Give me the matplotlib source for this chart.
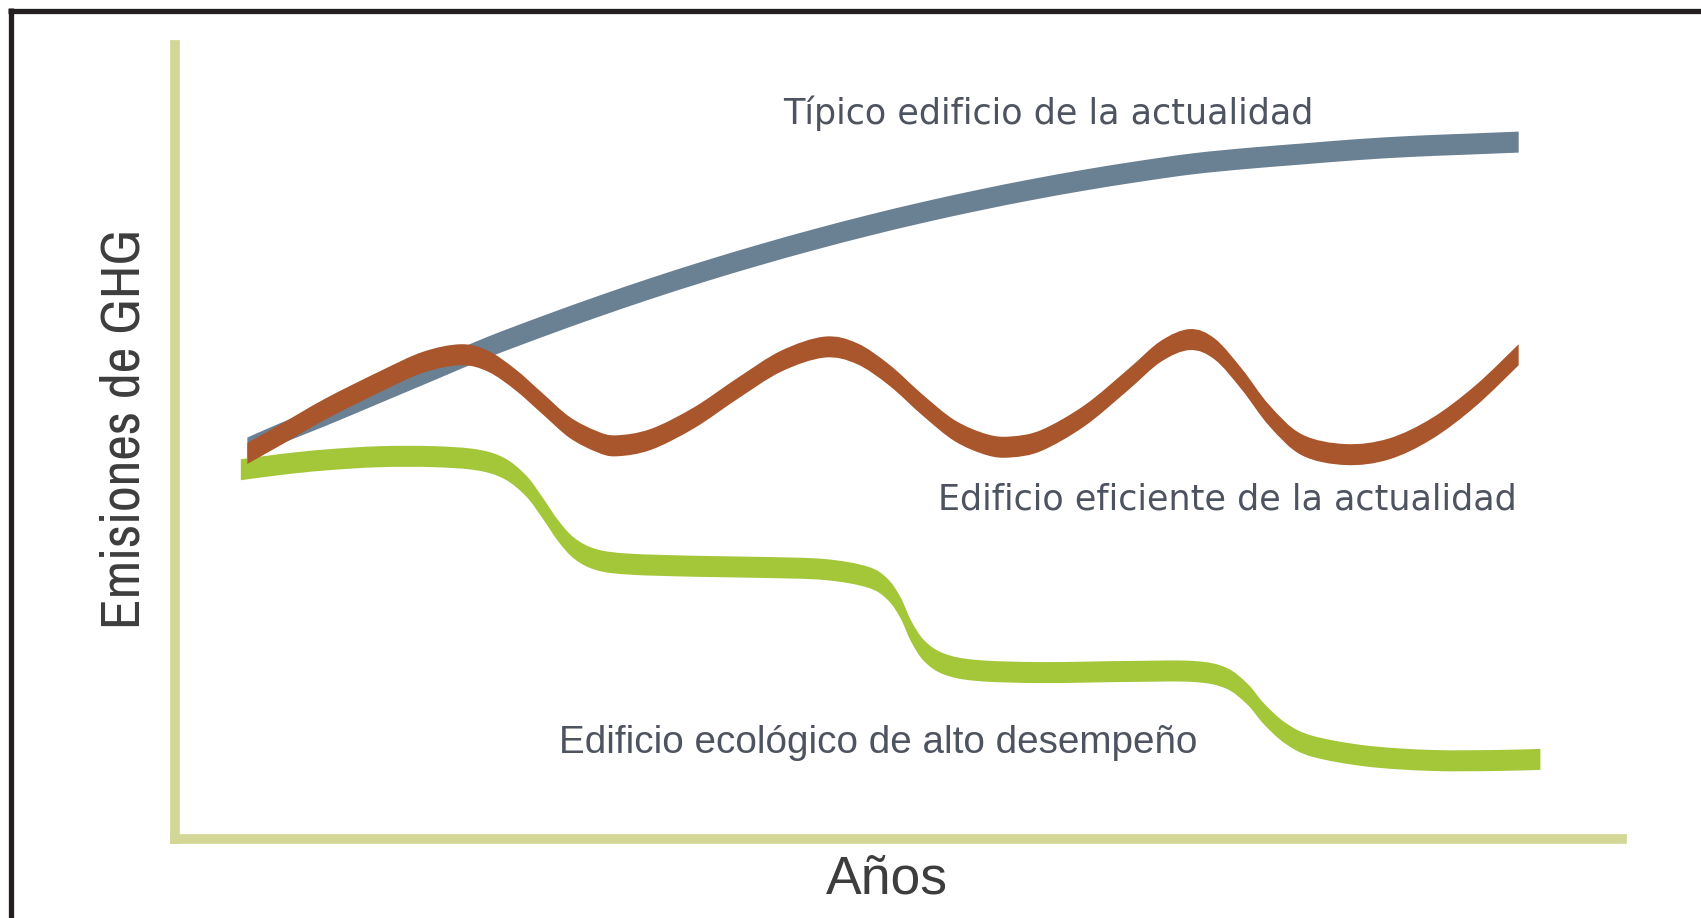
import matplotlib
matplotlib.use("Agg")
import matplotlib.pyplot as plt
from matplotlib.lines import Line2D
from matplotlib.path import Path
from matplotlib.patches import PathPatch
from matplotlib import font_manager
import numpy as np

# ---- data (arbitrary units: years 0-100, emissions 0-100) ----
typical_x = [5.00, 7.40, 10.40, 14.15, 17.89, 21.64, 25.39, 29.14, 32.89, 36.63, 40.39, 44.13,
             47.88, 51.63, 55.38, 59.13, 62.88, 66.62, 70.37, 74.12, 77.87, 81.62, 85.36, 89.12, 92.86]
typical_y = [49.24, 51.15, 53.34, 56.21, 59.08, 61.95, 64.54, 67.00, 69.33, 71.51, 73.56, 75.47,
             77.25, 78.89, 80.39, 81.76, 82.99, 84.08, 85.04, 85.72, 86.27, 86.81, 87.22, 87.50, 87.77]

efficient_x = [5.00, 7.40, 10.40, 14.15, 17.14, 19.77, 21.64, 23.52, 25.39, 27.27, 29.14, 30.49,
               32.89, 35.89, 38.89, 41.88, 44.88, 47.13, 49.38, 51.63, 53.88, 56.13, 57.78, 59.88,
               62.88, 65.87, 68.12, 70.15, 71.87, 73.75, 75.62, 77.87, 80.87, 83.87, 86.87, 89.87, 92.86]
efficient_y = [48.56, 51.02, 54.16, 57.58, 60.04, 60.99, 60.17, 57.85, 54.84, 51.84, 50.06, 49.52,
               50.33, 53.07, 56.76, 60.17, 61.95, 61.13, 58.40, 54.71, 51.43, 49.65, 49.38, 50.20,
               53.34, 57.85, 61.40, 62.90, 61.68, 57.85, 53.34, 49.65, 48.42, 49.11, 51.70, 55.80, 60.99]

green_x = [4.55, 7.40, 10.40, 14.15, 17.89, 20.89, 22.77, 24.27, 25.39, 26.52, 27.64, 29.14,
           31.39, 35.89, 40.39, 44.88, 47.88, 49.23, 50.13, 50.88, 51.78, 53.13, 55.38, 59.88,
           65.87, 70.37, 72.62, 74.12, 75.25, 76.75, 78.62, 82.37, 86.87, 91.37, 94.36]
green_y = [46.51, 47.19, 47.74, 48.15, 48.15, 47.74, 46.65, 44.46, 41.73, 38.72, 36.54, 35.17,
           34.62, 34.35, 34.21, 33.94, 32.98, 31.48, 29.16, 26.15, 23.69, 22.05, 21.23, 20.96,
           21.10, 21.10, 20.28, 18.23, 15.77, 13.31, 11.67, 10.44, 9.89, 9.89, 10.03]

labels = ["Típico edificio de la actualidad",
          "Edificio eficiente de la actualidad",
          "Edificio ecológico de alto desempeño"]
xlabel = "Años"
ylabel = "Emisiones de GHG"

# ---- figure ----
W, H, DPI = 1701, 918, 100
fig = plt.figure(figsize=(W / DPI, H / DPI), dpi=DPI)
fig.patch.set_facecolor("white")

ax_l, ax_r, ax_t, ax_b = 175, 1622, 45, 839
ax = fig.add_axes([ax_l / W, (H - ax_b) / H, (ax_r - ax_l) / W, (ax_b - ax_t) / H])
ax.set_xlim(0, 100)
ax.set_ylim(0, 100)
ax.set_xticks([])
ax.set_yticks([])
for s in ("top", "right"):
    ax.spines[s].set_visible(False)
spine_col = "#d3d796"
for s in ("left", "bottom"):
    ax.spines[s].set_color(spine_col)
    ax.spines[s].set_linewidth(7.0)
    ax.spines[s].set_capstyle("projecting")

# band thickness (vertical) in data units
thick_px = 21
h = thick_px * 100 / (ax_b - ax_t) / 2.0


def smooth_segments(x, y):
    """Catmull-Rom through the points, returned as cubic Bezier vertices."""
    P = np.column_stack([x, y]).astype(float)
    n = len(P)
    verts = [P[0]]
    for i in range(n - 1):
        p0 = P[i - 1] if i > 0 else P[i]
        p1 = P[i]
        p2 = P[i + 1]
        p3 = P[i + 2] if i + 2 < n else P[i + 1]
        c1 = p1 + (p2 - p0) / 6.0
        c2 = p2 - (p3 - p1) / 6.0
        verts += [c1, c2, p2]
    return np.array(verts)


def band(x, y, color, z):
    x = np.asarray(x, float)
    y = np.asarray(y, float)
    up = smooth_segments(x, y + h)
    lo = smooth_segments(x[::-1], (y - h)[::-1])
    verts = np.vstack([up, lo, up[:1]])
    codes = ([Path.MOVETO] + [Path.CURVE4] * (len(up) - 1) +
             [Path.LINETO] + [Path.CURVE4] * (len(lo) - 1) + [Path.CLOSEPOLY])
    ax.add_patch(PathPatch(Path(verts, codes), facecolor=color, edgecolor="none",
                           lw=0, zorder=z))


band(typical_x, typical_y, "#6a8093", 2)
band(green_x, green_y, "#a4c639", 3)
band(efficient_x, efficient_y, "#a9562c", 4)

names = {f.name for f in font_manager.fontManager.ttflist}
narrow = "Archivo Narrow" if "Archivo Narrow" in names else "Liberation Sans"

lab_col = "#4e5360"
ax.text(42.02, 90.09, labels[0], fontsize=25.2, color=lab_col, family="DejaVu Sans",
        ha="left", va="baseline")
ax.text(52.76, 41.45, labels[1], fontsize=25.2, color=lab_col, family="DejaVu Sans",
        ha="left", va="baseline")
ax.text(26.52, 10.84, labels[2], fontsize=27.8, color=lab_col, family="Liberation Sans",
        ha="left", va="baseline")

ax_col = "#3d3d3d"
fig.text(887 / W, 1 - 893 / H, xlabel, fontsize=38.5, color=ax_col, family="Liberation Sans",
         ha="center", va="baseline")
fig.text(124 / W, 1 - 429 / H, ylabel, fontsize=40.5, color=ax_col, family=narrow,
         rotation=90, ha="center", va="center")

# outer black frame (top and left edges)
fig.add_artist(Line2D([8 / W, 1.0], [1 - 10.5 / H, 1 - 10.5 / H], color="#231f20", lw=3.8,
                      solid_capstyle="butt", transform=fig.transFigure))
fig.add_artist(Line2D([10.5 / W, 10.5 / W], [0, 1 - 8 / H], color="#231f20", lw=3.8,
                      solid_capstyle="butt", transform=fig.transFigure))

fig.savefig("out.png", dpi=DPI)
